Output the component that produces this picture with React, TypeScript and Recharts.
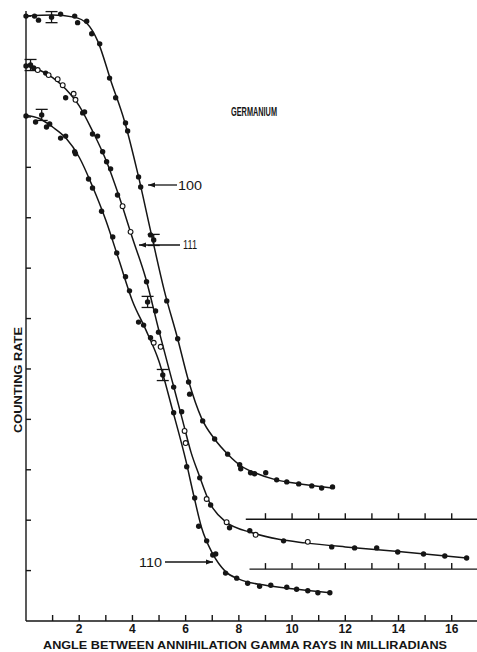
import React from 'react';
import {
  ComposedChart, Line, Scatter, XAxis, YAxis, ReferenceLine, ErrorBar, Customized,
} from 'recharts';

// angle (milliradians) / counting rate (arbitrary divisions)
const X_TICKS = [1, 2, 3, 4, 5, 6, 7, 8, 9, 10, 11, 12, 13, 14, 15, 16];
const Y_TICKS = [1, 2, 3, 4, 5, 6, 7, 8, 9, 10, 11, 12];
const BASELINE_TICKS = [9, 10, 11, 12, 13, 14, 15, 16];
const BASELINES = [2.02, 1.03];
const BASELINE_STARTS = [8.26, 8.4];
const ERR = 0.11;

const curve100 = [
  [0, 12.0], [1, 12.02], [1.8, 11.98], [2.3, 11.85], [2.7, 11.5], [3.2, 10.7], [3.7, 9.92],
  [4.2, 8.88], [4.7, 7.7], [5.2, 6.55], [5.7, 5.6], [6.1, 4.78], [6.6, 4.02], [7.1, 3.6],
  [7.6, 3.3], [8.1, 3.07], [8.6, 2.94], [9.4, 2.8], [10.3, 2.72], [11.5, 2.64],
];
const pts100 = [
  [0, 12.0], [0.32, 12.0], [0.47, 11.92], [1.3, 12.04], [1.83, 12.0], [1.94, 11.87], [2.28, 11.9],
  [2.47, 11.65], [2.77, 11.45], [3.14, 10.77], [3.37, 10.38], [3.74, 9.88], [3.82, 9.72],
  [4.23, 8.81], [4.31, 8.61], [4.68, 7.66], [5.29, 6.35], [5.7, 5.6], [6.11, 4.74], [6.15, 4.5],
  [6.64, 3.97], [7.09, 3.61], [7.58, 3.31], [8.03, 3.1], [8.07, 3.02], [8.44, 2.94], [8.59, 2.92],
  [9.01, 2.94], [9.42, 2.8], [9.8, 2.76], [10.25, 2.72], [10.74, 2.68], [11.11, 2.64], [11.52, 2.66],
];
const err100 = [[0.96, 11.98], [4.8, 7.56]];

const curve111 = [
  [0, 11.02], [0.5, 10.93], [1, 10.78], [1.5, 10.55], [2, 10.22], [2.5, 9.72], [3, 9.15],
  [3.5, 8.42], [4, 7.6], [4.5, 6.8], [5, 5.75], [5.5, 4.75], [5.9, 3.95], [6.2, 3.35],
  [6.5, 2.9], [6.9, 2.35], [7.5, 1.97], [8.5, 1.75], [9.5, 1.62], [10.5, 1.55], [12, 1.47],
  [14, 1.38], [16.56, 1.25],
];
const pts111 = [
  [0, 11.01], [0.29, 10.97], [0.74, 10.87], [1.49, 10.38], [2.13, 10.08], [2.2, 10.1], [2.5, 9.66],
  [2.69, 9.62], [2.88, 9.31], [3.03, 9.11], [3.18, 8.97], [3.44, 8.45], [4.53, 6.73], [4.87, 6.15],
  [4.98, 5.73], [5.55, 4.64], [5.85, 4.15], [6.53, 2.84], [6.94, 2.3], [7.65, 1.85], [8.41, 1.79],
  [9.68, 1.59], [11.49, 1.47], [12.35, 1.45], [13.18, 1.45], [13.97, 1.37], [14.94, 1.33],
  [15.74, 1.29], [16.56, 1.25],
];
const open111 = [
  [0.44, 10.93], [0.85, 10.83], [1.19, 10.75], [1.38, 10.63], [1.79, 10.46], [1.86, 10.34],
  [3.63, 8.23], [3.93, 7.72], [5.06, 5.44], [5.96, 3.77], [6.0, 3.53], [6.79, 2.42],
  [7.54, 1.96], [8.63, 1.71], [10.59, 1.57],
];
const err111 = [[0.17, 11.03], [4.57, 6.33]];

const curve110 = [
  [0, 10.03], [0.5, 9.97], [1, 9.8], [1.5, 9.58], [2, 9.2], [2.5, 8.62], [3, 7.95], [3.5, 7.15],
  [4, 6.35], [4.5, 5.78], [5, 5.15], [5.5, 4.2], [6, 3.2], [6.3, 2.5], [6.6, 1.85], [7, 1.35],
  [7.5, 0.98], [8, 0.83], [9, 0.71], [10, 0.64], [11.42, 0.56],
];
const pts110 = [
  [0, 10.02], [0.36, 9.9], [0.77, 9.8], [0.89, 9.86], [1.3, 9.58], [1.49, 9.62], [1.83, 9.31],
  [1.86, 9.27], [2.35, 8.77], [2.5, 8.59], [2.84, 8.13], [3.26, 7.62], [3.41, 7.3], [3.74, 6.83],
  [3.89, 6.55], [4.23, 5.93], [4.42, 5.87], [4.68, 5.62], [5.55, 4.13], [6.04, 3.06], [6.34, 2.44],
  [6.49, 1.88], [6.79, 1.59], [7.02, 1.31], [7.13, 1.33], [7.5, 0.95], [7.92, 0.85], [8.33, 0.75],
  [8.78, 0.69], [9.2, 0.71], [9.8, 0.67], [10.17, 0.63], [10.59, 0.6], [10.97, 0.56], [11.42, 0.56],
];
const open110 = [[4.8, 5.52]];
const err110 = [[0.59, 10.04], [5.14, 4.88]];

const INK = '#151515';
const FONT = '"Liberation Sans", Arial, sans-serif';

const toXY = (arr: number[][]) => arr.map(([x, y]) => ({ x, y }));
const toErr = (arr: number[][]) => arr.map(([x, y]) => ({ x, y, err: ERR }));
const baselineTickData = BASELINES.flatMap((b) => BASELINE_TICKS.map((t) => ({ x: t, y: b })));

const filledDot = (p: any) => <circle cx={p.cx} cy={p.cy} r={2.7} fill={INK} />;
const openDot = (p: any) => <circle cx={p.cx} cy={p.cy} r={2.4} fill="#fff" stroke={INK} strokeWidth={1.1} />;
const upTick = (p: any) => <line x1={p.cx} y1={p.cy} x2={p.cx} y2={p.cy - 6} stroke={INK} strokeWidth={1.4} />;

const XTick = (props: any) => {
  const { x, y, payload } = props;
  const v = payload.value;
  return (
    <g>
      <line x1={x} y1={y} x2={x} y2={y - 6} stroke={INK} strokeWidth={1.4} />
      {v % 2 === 0 && (
        <text x={x} y={y + 12} textAnchor="middle" fontSize={12} fontWeight="bold" fontFamily={FONT} fill={INK}>
          {v}
        </text>
      )}
    </g>
  );
};

const YTick = (props: any) => {
  const { x, y } = props;
  return <line x1={x} y1={y} x2={x + 5} y2={y} stroke={INK} strokeWidth={1.4} />;
};

const Arrow = ({ x1, x2, y, head }: { x1: number; x2: number; y: number; head: 'left' | 'right' }) => {
  const hx = head === 'left' ? x1 : x2;
  const d = head === 'left' ? 7 : -7;
  return (
    <g>
      <line x1={x1} y1={y} x2={x2} y2={y} stroke={INK} strokeWidth={1.3} />
      <path d={`M${hx},${y} L${hx + d},${y - 2.5} L${hx + d},${y + 2.5} Z`} fill={INK} />
    </g>
  );
};

const Annotations = () => (
  <g fontFamily={FONT} fill={INK}>
    <text x={231} y={116} fontSize={12} fontWeight="bold" textLength={46} lengthAdjust="spacingAndGlyphs">GERMANIUM</text>
    <Arrow x1={148} x2={177} y={185} head="left" />
    <text x={178} y={190} fontSize={13} textLength={24} lengthAdjust="spacingAndGlyphs">100</text>
    <Arrow x1={139} x2={180} y={245} head="left" />
    <text x={183} y={249} fontSize={13} textLength={14} lengthAdjust="spacingAndGlyphs">111</text>
    <Arrow x1={165} x2={213} y={562} head="right" />
    <text x={139} y={567} fontSize={13} textLength={23} lengthAdjust="spacingAndGlyphs">110</text>
    <text x={43} y={649} fontSize={11} fontWeight="bold" textLength={404} lengthAdjust="spacingAndGlyphs">
      ANGLE BETWEEN ANNIHILATION GAMMA RAYS IN MILLIRADIANS
    </text>
    <text
      x={0}
      y={0}
      transform="translate(22,433) rotate(-90)"
      fontSize={11}
      fontWeight="bold"
      textLength={106}
      lengthAdjust="spacingAndGlyphs"
    >
      COUNTING RATE
    </text>
  </g>
);

export default function App() {
  return (
    <div style={{ position: 'absolute', left: 0, top: 0, background: '#fff' }}>
      <ComposedChart width={477} height={652} margin={{ top: 1, right: 0, bottom: 0, left: 0 }}>
        <XAxis
          type="number"
          dataKey="x"
          domain={[0, 16.95]}
          ticks={X_TICKS}
          interval={0}
          height={31}
          tickSize={0}
          tickMargin={0}
          tickLine={false}
          tick={<XTick />}
          stroke={INK}
          strokeWidth={1.4}
        />
        <YAxis
          type="number"
          dataKey="y"
          domain={[0, 12.3]}
          ticks={Y_TICKS}
          interval={0}
          width={26}
          tickSize={0}
          tickMargin={0}
          tickLine={false}
          axisLine={false}
          tick={<YTick />}
        />
        <ReferenceLine segment={[{ x: 0, y: 0 }, { x: 0, y: 12.1 }]} stroke={INK} strokeWidth={1.4} />
        {BASELINES.map((b, i) => (
          <ReferenceLine
            key={`b${b}`}
            segment={[{ x: BASELINE_STARTS[i], y: b }, { x: 16.95, y: b }]}
            stroke={INK}
            strokeWidth={1.4}
          />
        ))}
        <Scatter data={baselineTickData} shape={upTick} isAnimationActive={false} />
        <Line data={toXY(curve100)} dataKey="y" type="monotone" stroke={INK} strokeWidth={1.5} dot={false} isAnimationActive={false} />
        <Line data={toXY(curve111)} dataKey="y" type="monotone" stroke={INK} strokeWidth={1.5} dot={false} isAnimationActive={false} />
        <Line data={toXY(curve110)} dataKey="y" type="monotone" stroke={INK} strokeWidth={1.5} dot={false} isAnimationActive={false} />
        <Scatter data={toXY(pts100)} shape={filledDot} isAnimationActive={false} />
        <Scatter data={toXY(pts111)} shape={filledDot} isAnimationActive={false} />
        <Scatter data={toXY(pts110)} shape={filledDot} isAnimationActive={false} />
        <Scatter data={toXY(open111)} shape={openDot} isAnimationActive={false} />
        <Scatter data={toXY(open110)} shape={openDot} isAnimationActive={false} />
        <Scatter data={toErr([...err100, ...err111, ...err110])} shape={filledDot} isAnimationActive={false}>
          <ErrorBar dataKey="err" direction="y" width={6} stroke={INK} strokeWidth={1.3} />
        </Scatter>
        <Customized component={Annotations} />
      </ComposedChart>
    </div>
  );
}
